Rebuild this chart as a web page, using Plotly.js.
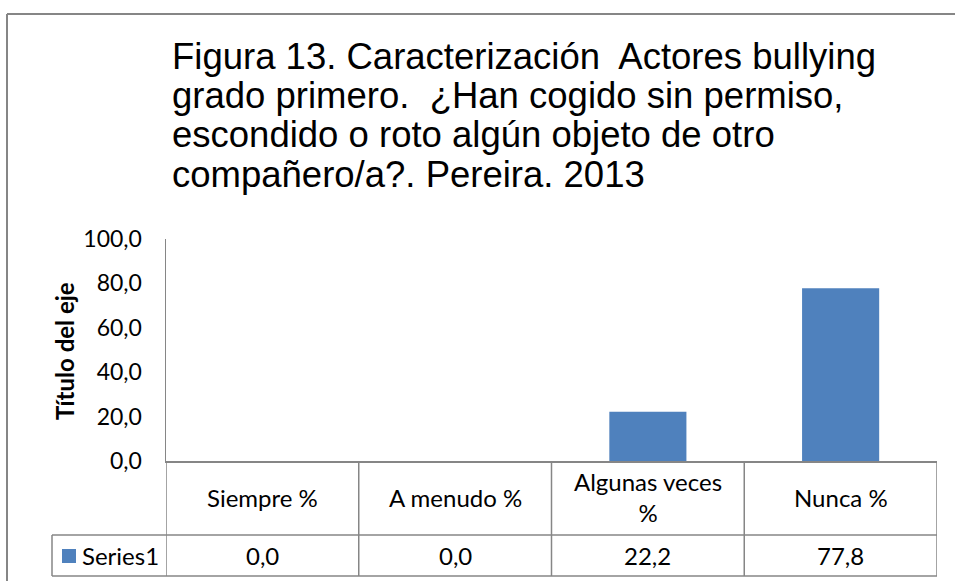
<!DOCTYPE html>
<html>
<head>
<meta charset="utf-8">
<script src="https://cdn.plot.ly/plotly-3.0.1.min.js"></script>
<style>html,body{margin:0;padding:0;background:#fff;}#chart{width:955px;height:581px;}</style>
</head>
<body>
<div id="chart"></div>
<script>
const categories = ["Siempre %", "A menudo %", "Algunas veces<br>%", "Nunca %"];
const values = [0.0, 0.0, 22.2, 77.8];
const valueLabels = ["0,0", "0,0", "22,2", "77,8"];
const seriesName = "Series1";
const yAxisTitle = "Título del eje";
const yTickVals = [0, 20, 40, 60, 80, 100];
const yTickText = ["0,0", "20,0", "40,0", "60,0", "80,0", "100,0"];
const titleLines = [
  "Figura 13. Caracterización  Actores bullying",
  "grado primero.  ¿Han cogido sin permiso,",
  "escondido o roto algún objeto de otro",
  "compañero/a?. Pereira. 2013"
];

const W = 955, H = 581;
const L = 166, R = 937, T = 239, B = 461;
const pw = R - L, ph = B - T;
const px = x => (x - L) / pw;
const py = y => (B - y) / ph;
const grid = '#868686';
const barColor = '#4F81BD';
const tickFont = {family: 'Lato, Carlito, sans-serif', size: 23, color: '#000'};
const tableFont = {family: 'Lato, Carlito, sans-serif', size: 24, color: '#000'};

const xIdx = categories.map((c, i) => i);

const shapes = [];
for (let i = 0; i <= categories.length; i++) {
  shapes.push({type: 'line', xref: 'x', yref: 'paper', x0: i - 0.5, x1: i - 0.5, y0: 0, y1: py(576), line: {color: grid, width: 1.5}});
}
shapes.push({type: 'line', xref: 'paper', yref: 'paper', x0: px(52), x1: 1, y0: py(535), y1: py(535), line: {color: grid, width: 1.5}});
shapes.push({type: 'line', xref: 'paper', yref: 'paper', x0: px(52), x1: 1, y0: py(576), y1: py(576), line: {color: grid, width: 1.5}});
shapes.push({type: 'line', xref: 'paper', yref: 'paper', x0: px(52), x1: px(52), y0: py(535), y1: py(576), line: {color: grid, width: 1.5}});
// legend key square
shapes.push({type: 'rect', xref: 'paper', yref: 'paper', x0: px(62), x1: px(76), y0: py(549), y1: py(563), fillcolor: barColor, line: {width: 0}});
// outer chart border
shapes.push({type: 'line', xref: 'paper', yref: 'paper', x0: px(7), x1: px(960), y0: py(14), y1: py(14), line: {color: grid, width: 2}});
shapes.push({type: 'line', xref: 'paper', yref: 'paper', x0: px(7), x1: px(7), y0: py(14), y1: py(590), line: {color: grid, width: 2}});

const annotations = [];
categories.forEach((c, i) => {
  annotations.push({xref: 'x', yref: 'paper', x: i, y: py(497), text: c, showarrow: false,
    font: tableFont, xanchor: 'center', yanchor: 'middle', align: 'center'});
  annotations.push({xref: 'x', yref: 'paper', x: i, y: py(555), text: valueLabels[i], showarrow: false,
    font: tableFont, xanchor: 'center', yanchor: 'middle'});
});
annotations.push({xref: 'paper', yref: 'paper', x: px(80), y: py(555), text: seriesName, showarrow: false,
  font: tableFont, xanchor: 'left', yanchor: 'middle'});
annotations.push({xref: 'paper', yref: 'paper', x: px(64), y: py(351), text: yAxisTitle, showarrow: false,
  textangle: -90, font: {family: 'Lato, Carlito, sans-serif', size: 24, color: '#000', weight: 'bold'},
  xanchor: 'center', yanchor: 'middle'});
const titleY = [56, 95, 135, 174];
titleLines.forEach((t, i) => {
  annotations.push({xref: 'paper', yref: 'paper', x: px(170), y: py(titleY[i]), text: t, showarrow: false,
    font: {family: 'Liberation Sans, Arial, sans-serif', size: 36.5, color: '#000'}, xanchor: 'left', yanchor: 'middle'});
});

const data = [{
  type: 'bar',
  x: xIdx,
  y: values,
  name: seriesName,
  width: 0.4,
  marker: {color: barColor},
  showlegend: false
}];

const layout = {
  width: W, height: H,
  margin: {l: L, r: W - R, t: T, b: H - B, pad: 0},
  paper_bgcolor: '#fff', plot_bgcolor: '#fff',
  xaxis: {
    range: [-0.5, categories.length - 0.5], showticklabels: false, showgrid: false, zeroline: false,
    showline: true, linecolor: grid, linewidth: 1.5, ticks: '', fixedrange: true
  },
  yaxis: {
    range: [0, 100], tickvals: yTickVals, ticktext: yTickText, showgrid: false, zeroline: false,
    showline: true, linecolor: grid, linewidth: 1.5, ticks: 'outside', ticklen: 18, tickcolor: 'rgba(0,0,0,0)',
    tickfont: tickFont
  },
  showlegend: false,
  shapes: shapes,
  annotations: annotations
};

Plotly.newPlot('chart', data, layout, {displayModeBar: false, staticPlot: true});
</script>
</body>
</html>
